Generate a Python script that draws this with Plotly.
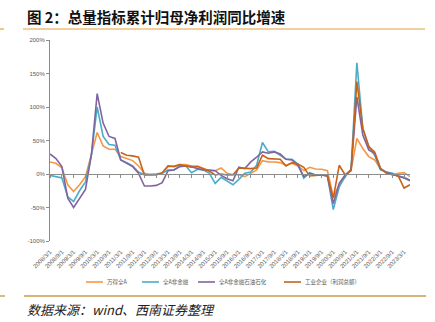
import pandas as pd
import plotly.graph_objects as go

# Quarterly reporting dates, 2008Q1 .. 2023Q2
quarters = pd.date_range("2008-03-01", periods=62, freq="3MS")

# Cumulative YoY growth of net profit attributable to parent (%)
wind_all_a = [18, 16, 9, -16, -26, -16, -4, 30, 62, 42, 37, 37,
              26, 23, 20, 12, 1, -1, -1, 1, 11, 12, 14, 14,
              12, 12, 8, 5, 5, 9, 1, -1, -1, -4, 1, 6,
              20, 18, 18, 17, 13, 16, 12, 5, 10, 7.5, 7, 5,
              -34, -16, -1.5, 5, 53, 38, 26, 21, 8, 2, -1.5, 1, 2, -4]
nonfin = [-2, -4, -6, -34, -41, -25, -12, 28, 100, 56, 44, 43,
          21, 17, 12, 3, -1, -1, -1, 1, 6, 6, 12, 12,
          2, 7, 6, 1, -14, -5, -11, -16, -8, 1, 3, 13,
          47, 33, 34, 28, 22, 22, 15, -6, 2, -1.5, -1.5, -3,
          -53, -19, -4, 7, 166, 68, 41, 28, 6, 3, 1, -3, -5, -9]
nonfin_ex_petro = [30, 23, 11, -36, -50, -36, -23, 28, 120, 76, 56, 53,
                   21, 16, 11, 1, -18, -18, -17, -13, 5, 6, 11, 12,
                   11, 8, 6, 6, 5, -2, -7, -10, 10, 8, 18, 25,
                   33, 31, 33, 30, 22, 21, 13, -4, 1, -1.5, -1.5, -3,
                   -44, -14, -1.5, 6, 115, 58, 36, 31, 8, 2.5, 0, -3, -6, -10]
industrial = [None] * 12 + [32, 28, 27, 25, -1.5, -1.5, -0.5, 2, 12, 11, 14, 12,
                            10, 11, 8, 4, -1.5, 0, -1.5, -1, 9, 8, 8, 9,
                            28, 23, 23, 22, 12, 17, 15, 10, -3, -2, -1.5, -2.5,
                            -36, 13, -1.5, 5, 138, 68, 41, 33, 8.5, 1, -1.5, -3, -21, -16]

series_names = ["万得全A", "全A非金融", "全A非金融石油石化", "工业企业（利润总额）"]
series_values = [wind_all_a, nonfin, nonfin_ex_petro, industrial]
series_colors = ["#F79646", "#4BACC6", "#8064A2", "#C5631B"]

# Axis ticks
x_tick_dates = pd.date_range("2008-03-01", "2023-03-01", freq="6MS")
x_tick_text = [f"{d.year}/{d.month}/1" for d in x_tick_dates]
y_tick_vals = [-100, -50, 0, 50, 100, 150, 200]
y_tick_text = [f"{v}%" for v in y_tick_vals]

W, H = 435, 322
L, R, T, B = 50, 410, 40, 241  # plot area in pixels


def px(x):
    return (x - L) / (R - L)


def py(y):
    return (B - y) / (B - T)


fig = go.Figure()
for i, (name, vals, col) in enumerate(zip(series_names, series_values, series_colors)):
    fig.add_trace(go.Scatter(
        x=quarters, y=vals, name=name, mode="lines",
        line=dict(color=col, width=1.6),
        connectgaps=False, showlegend=False,
        xaxis="x2" if i == len(series_names) - 1 else "x",
    ))

x_range = [pd.Timestamp("2008-03-01"), pd.Timestamp("2023-06-01")]
tick_font = dict(family="Liberation Sans, Arial, sans-serif", size=6, color="#595959")

fig.update_layout(
    width=W, height=H,
    margin=dict(l=L, r=W - R, t=T, b=H - B, pad=0),
    paper_bgcolor="white", plot_bgcolor="white",
    xaxis=dict(
        range=x_range, showgrid=False, zeroline=False, showline=False,
        tickvals=x_tick_dates, ticktext=x_tick_text, tickangle=-45,
        ticks="outside", ticklen=4, tickcolor="rgba(0,0,0,0)",
        tickfont=tick_font,
    ),
    # category axis drawn through y = 0, carrying the tick marks
    xaxis2=dict(
        range=x_range, overlaying="x", anchor="free", position=1 / 3,
        showgrid=False, zeroline=False, showline=True, linecolor="#8C8C8C", linewidth=1,
        tickvals=x_tick_dates, ticks="outside", ticklen=3, tickcolor="#8C8C8C",
        showticklabels=False,
    ),
    yaxis=dict(
        range=[-100, 200], showgrid=False, zeroline=False,
        showline=True, linecolor="#8C8C8C", linewidth=1,
        tickvals=y_tick_vals, ticktext=y_tick_text,
        ticks="outside", ticklen=3, tickcolor="#8C8C8C",
        tickfont=tick_font,
    ),
)

cjk = "Noto Sans CJK SC"
annotations = [
    dict(x=px(25), y=py(16), xref="paper", yref="paper", xanchor="left", yanchor="middle",
         text="<b>图 2：总量指标累计归母净利润同比增速</b>", showarrow=False,
         font=dict(family=cjk, size=14.5, color="#111111")),
    dict(x=px(25), y=py(309), xref="paper", yref="paper", xanchor="left", yanchor="middle",
         text="<i>数据来源：wind、西南证券整理</i>", showarrow=False,
         font=dict(family=cjk, size=13, color="#222222")),
]

shapes = [
    # rule under the title
    dict(type="line", xref="paper", yref="paper", x0=px(0), x1=px(4), y0=py(29), y1=py(29),
         line=dict(color="#E3A23E", width=1.2)),
    dict(type="line", xref="paper", yref="paper", x0=px(23), x1=px(425), y0=py(29), y1=py(29),
         line=dict(color="#E3A23E", width=1.2)),
    # rule above the source note
    dict(type="line", xref="paper", yref="paper", x0=px(0), x1=px(5), y0=py(296), y1=py(296),
         line=dict(color="#D9B378", width=1.8)),
    dict(type="line", xref="paper", yref="paper", x0=px(24), x1=px(426), y0=py(296), y1=py(296),
         line=dict(color="#D9B378", width=1.8)),
]

# legend row
legend_x = [86, 142, 198, 284]
legend_y = 282
for name, col, lx in zip(series_names, series_colors, legend_x):
    shapes.append(dict(type="line", xref="paper", yref="paper",
                       x0=px(lx), x1=px(lx + 17), y0=py(legend_y), y1=py(legend_y),
                       line=dict(color=col, width=1.6)))
    annotations.append(dict(x=px(lx + 19), y=py(legend_y), xref="paper", yref="paper",
                            xanchor="left", yanchor="middle", text=name, showarrow=False,
                            font=dict(family=cjk, size=5.5, color="#595959")))

fig.update_layout(annotations=annotations, shapes=shapes)

fig.write_html("out.html")
